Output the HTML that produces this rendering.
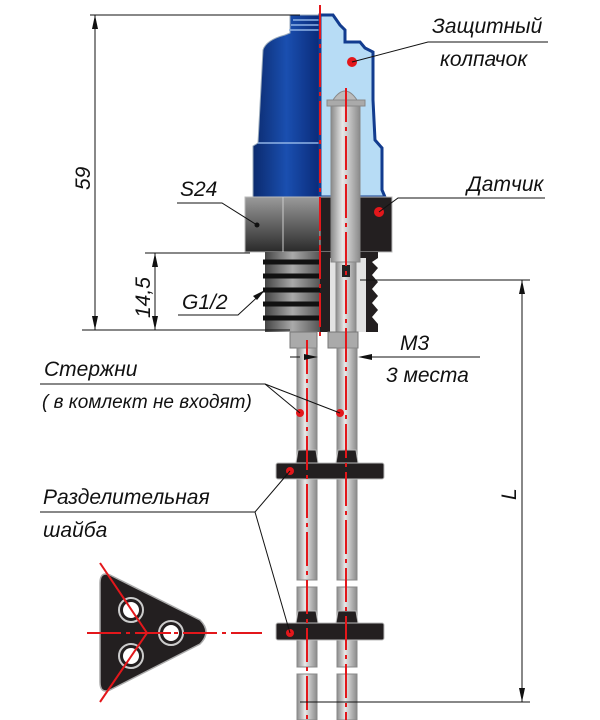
<!DOCTYPE html>
<html><head><meta charset="utf-8"><style>
html,body{margin:0;padding:0;background:#fff}
svg{display:block}
text{font-family:"Liberation Sans","Noto Sans CJK SC",sans-serif;font-style:italic;fill:#111}
</style></head><body>
<svg width="600" height="720" viewBox="0 0 600 720" xmlns="http://www.w3.org/2000/svg">
<defs>
<linearGradient id="blue" x1="0" x2="1"><stop offset="0" stop-color="#0b2a6e"/><stop offset="0.5" stop-color="#1a4fb0"/><stop offset="1" stop-color="#0a2a78"/></linearGradient>
<linearGradient id="nut" x1="0" y1="0" x2="0" y2="1"><stop offset="0" stop-color="#9a9a9a"/><stop offset="1" stop-color="#2a2a2a"/></linearGradient>
<linearGradient id="rod" x1="0" x2="1"><stop offset="0" stop-color="#8a8a8a"/><stop offset="0.4" stop-color="#e8e8e8"/><stop offset="1" stop-color="#8a8a8a"/></linearGradient>
<linearGradient id="thr" x1="0" x2="1"><stop offset="0" stop-color="#444"/><stop offset="0.5" stop-color="#aaa"/><stop offset="1" stop-color="#555"/></linearGradient>
</defs>

<path d="M290,15 L320,15 L320,197 L253,197 L253,146 L258,143 L263,50 Q266,40 285,35 L290,33 Z" fill="url(#blue)" stroke="#9ab" stroke-width="1"/>
<g stroke="#8fb3e6" stroke-width="1.5"><line x1="293" y1="20" x2="320" y2="20"/><line x1="291" y1="25" x2="320" y2="25"/><line x1="289" y1="30" x2="320" y2="30"/><line x1="258" y1="143" x2="320" y2="143"/></g>
<path d="M320,15 L333,15 L340,25 L345,30 L345,42 L360,42 L365,48 L373,52 L373,100 L375,140 L382,148 L382,190 L385,197 L320,197 Z" fill="#b7dcf5" stroke="#123c8f" stroke-width="3"/>
<rect x="245" y="197" width="75" height="55" fill="url(#nut)" stroke="#bbb"/>
<line x1="283" y1="197" x2="283" y2="252" stroke="#ccc"/>
<rect x="320" y="197" width="72" height="55" fill="#231f20" stroke="#bbb"/>
<rect x="265" y="252" width="55" height="80" fill="url(#thr)"/>
<g stroke="#111" stroke-width="5">
<line x1="263" y1="262" x2="320" y2="262"/><line x1="263" y1="276" x2="320" y2="276"/><line x1="263" y1="290" x2="320" y2="290"/><line x1="263" y1="304" x2="320" y2="304"/><line x1="263" y1="318" x2="320" y2="318"/></g>
<path d="M320,252 L378,252 L378,258 L372,262 L378,268 L372,275 L378,282 L372,289 L378,296 L372,303 L378,310 L372,317 L378,324 L378,332 L320,332 Z" fill="#231f20"/>
<rect x="330" y="258" width="36" height="74" fill="#e2e2e2"/>
<path d="M333,100 Q345,82 357,100 Z" fill="#bbb" stroke="#888"/>
<rect x="327" y="100" width="38" height="6" fill="#aaa" stroke="#888"/>
<rect x="331" y="106" width="29" height="156" fill="url(#rod)" stroke="#888"/>
<rect x="336" y="262" width="20" height="70" fill="url(#rod)" stroke="#888"/>
<rect x="342" y="265" width="8" height="12" fill="#222"/>
<rect x="290" y="332" width="27" height="16" fill="#aaa" stroke="#777"/>
<rect x="328" y="332" width="30" height="16" fill="#aaa" stroke="#777"/>
<g fill="url(#rod)" stroke="#888">
<rect x="297" y="348" width="20" height="232"/><rect x="297" y="587" width="20" height="80"/><rect x="297" y="674" width="20" height="46"/>
<rect x="337" y="348" width="20" height="232"/><rect x="337" y="587" width="20" height="80"/><rect x="337" y="674" width="20" height="46"/>
</g>
<g fill="#231f20" stroke="#bbb">
<path d="M296,463 L298,450 L316,450 L318,463 Z"/><path d="M336,463 L338,450 L356,450 L358,463 Z"/>
<rect x="276" y="463" width="108" height="16" rx="2"/>
<path d="M296,623 L298,611 L316,611 L318,623 Z"/><path d="M336,623 L338,611 L356,611 L358,623 Z"/>
<rect x="276" y="623" width="108" height="17" rx="2"/>
</g>
<path d="M110,575 L200,620 Q212,632 200,644 L110,690 Q100,694 100,682 L100,583 Q100,571 110,575 Z" fill="#231f20" stroke="#aaa" stroke-width="1.5"/>
<g fill="#231f20" stroke="#ccc" stroke-width="2">
<circle cx="131" cy="610" r="12"/><circle cx="171" cy="633" r="12"/><circle cx="131" cy="656" r="12"/>
</g>
<g fill="#fff"><circle cx="131" cy="610" r="8"/><circle cx="171" cy="633" r="8"/><circle cx="131" cy="656" r="8"/></g>
<g stroke="#e3171b" stroke-width="2" fill="none" stroke-dasharray="34,5,4,5">
<line x1="320" y1="5" x2="320" y2="340"/><line x1="346" y1="88" x2="346" y2="720"/><line x1="307" y1="340" x2="307" y2="720"/>
<line x1="87" y1="633" x2="262" y2="633"/>
</g>
<g stroke="#e3171b" stroke-width="2"><line x1="100" y1="563" x2="147" y2="633"/><line x1="147" y1="633" x2="100" y2="702"/><line x1="147" y1="633" x2="171" y2="633"/></g>
<g fill="#e3171b"><circle cx="352" cy="62" r="5"/><circle cx="379" cy="212" r="5"/><circle cx="290" cy="471" r="4"/><circle cx="290" cy="633" r="4"/><circle cx="300" cy="413" r="4"/><circle cx="340" cy="413" r="4"/></g>
<circle cx="257" cy="225" r="2.5" fill="#111"/>
<g stroke="#111" stroke-width="1" fill="none">
<line x1="90" y1="15" x2="300" y2="15"/><line x1="82" y1="330" x2="290" y2="330"/>
<line x1="95" y1="15" x2="95" y2="330"/><line x1="145" y1="253" x2="250" y2="253"/><line x1="155" y1="253" x2="155" y2="330"/>
<line x1="360" y1="280" x2="530" y2="280"/><line x1="300" y1="702" x2="530" y2="702"/><line x1="522" y1="280" x2="522" y2="702"/>
<polyline points="352,62 428,42 548,42"/><polyline points="379,212 398,198 545,198"/>
<polyline points="177,203 222,203 257,225"/><polyline points="178,315 238,315 265,290"/>
<polyline points="40,384 265,384 300,413"/><line x1="265" y1="384" x2="340" y2="413"/>
<polyline points="40,512 255,512 290,471"/><line x1="255" y1="512" x2="290" y2="633"/>
<line x1="360" y1="357" x2="480" y2="357"/><line x1="290" y1="357" x2="300" y2="357"/>
</g>
<g fill="#111">
<path d="M95,15 l-3,14 h6z"/><path d="M95,330 l-3,-14 h6z"/><path d="M155,253 l-3,14 h6z"/><path d="M155,330 l-3,-14 h6z"/>
<path d="M522,280 l-3,14 h6z"/><path d="M522,702 l-3,-14 h6z"/><path d="M265,290 l-12,6 l4,4z"/>
<path d="M358,357 l14,-3 v6z"/><path d="M318,357 l-14,-3 v6z"/>
</g>
<g font-size="21">
<text x="432" y="33">Защитный</text><text x="440" y="66">колпачок</text>
<text x="467" y="191">Датчик</text>
<text x="180" y="196">S24</text>
<text x="182" y="309">G1/2</text>
<text x="44" y="376">Стержни</text>
<text x="43" y="504">Разделительная</text><text x="43" y="537">шайба</text>
<text x="400" y="350">M3</text><text x="386" y="382">3 места</text>
<text transform="translate(90,190) rotate(-90)">59</text>
<text transform="translate(150,318) rotate(-90)">14,5</text>
<text transform="translate(516,500) rotate(-90)">L</text>
</g>
<text x="42" y="408" font-size="19">( в комлект не входят)</text>
</svg>
</body></html>
